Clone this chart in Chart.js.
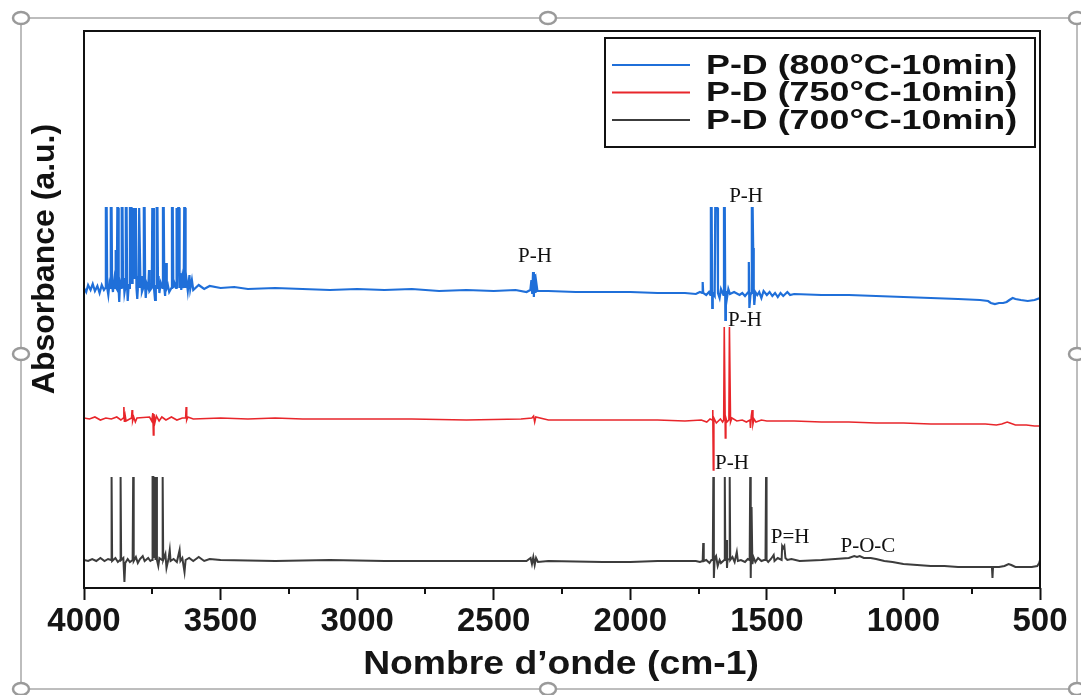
<!DOCTYPE html>
<html><head><meta charset="utf-8">
<script src="https://cdn.jsdelivr.net/npm/chart.js@4/dist/chart.umd.min.js"></script>
<style>html,body{margin:0;padding:0;background:#fff;}canvas{display:block}</style>
</head><body>
<canvas id="c" width="1081" height="695"></canvas>
<script>
// ---- data (wavenumber cm-1, absorbance a.u.) ----
const seriesLabels = ['P-D (800°C-10min)', 'P-D (750°C-10min)', 'P-D (700°C-10min)'];
const seriesColors = ['#1f6fd9', '#e8262b', '#3c3c3c'];
const xTickValues = [4000, 3500, 3000, 2500, 2000, 1500, 1000, 500];
const minorTickValues = [3750, 3250, 2750, 2250, 1750, 1250, 750];
const xTitle = 'Nombre d’onde (cm-1)';
const yTitle = 'Absorbance (a.u.)';

const blue800 = [
[4000,3.00],[3992,2.96],[3985,3.03],[3976,2.98],[3968,3.04],[3960,2.97],[3951,3.02],[3943,2.95],[3935,3.03],[3927,2.98],
[3922,3.00],[3920,3.80],[3917,3.80],[3915,3.00],[3911,2.93],[3907,3.04],
[3904,3.00],[3902,3.80],[3899,3.80],[3897,3.02],[3894,2.96],[3889,3.08],
[3886,3.00],[3884,3.38],[3882,3.00],
[3880,2.99],[3878,3.80],[3875,3.80],[3873,2.97],[3871,2.86],[3868,3.05],
[3864,3.00],[3862,3.80],[3859,3.80],[3857,3.01],[3855,3.10],[3852,2.95],
[3849,3.00],[3847,3.80],[3844,3.80],[3842,3.00],[3840,2.87],[3836,3.04],
[3834,3.00],[3832,3.80],[3829,3.80],
[3826,3.80],[3824,3.05],[3822,3.80],[3820,3.30],[3818,3.80],[3816,3.10],[3814,3.80],[3812,3.58],[3810,3.80],[3808,3.00],
[3805,2.89],[3802,3.03],
[3800,3.00],[3798,3.80],[3795,3.80],[3793,3.00],[3791,3.12],[3788,2.96],
[3783,3.00],[3781,3.80],[3778,3.80],[3776,3.00],
[3774,2.90],[3770,3.04],[3765,3.00],[3762,3.18],[3760,2.97],
[3752,3.00],[3750,3.80],[3748,3.40],[3746,3.80],[3744,3.00],
[3740,2.88],[3737,3.03],
[3736,3.00],[3734,3.80],[3731,3.80],[3729,3.00],
[3727,3.12],[3724,2.95],[3719,3.05],
[3713,3.00],[3711,3.80],[3708,3.80],[3706,3.00],
[3703,2.92],[3699,3.25],[3697,3.00],[3693,3.03],[3688,2.96],
[3680,3.00],[3678,3.80],[3675,3.80],[3673,3.00],[3670,3.06],
[3663,3.00],[3661,3.80],[3659,3.00],
[3657,3.00],[3655,3.80],[3652,3.80],[3650,3.00],
[3647,3.15],[3644,2.98],[3640,3.10],
[3635,3.00],[3633,3.80],[3630,3.80],[3628,3.00],
[3625,3.09],[3620,2.97],[3614,3.13],[3611,2.99],[3605,3.08],[3600,2.98],
[3580,3.03],[3560,2.99],[3540,3.02],[3500,3.00],[3450,3.01],[3400,2.99],[3300,3.00],[3200,2.99],[3100,2.98],[3000,2.99],
[2900,2.98],[2800,2.99],[2700,2.97],[2600,2.98],[2500,2.97],[2420,2.98],[2380,2.96],
[2366,2.98],[2362,3.08],[2359,2.94],[2356,3.16],[2353,2.91],[2350,3.14],[2347,2.95],[2344,3.05],[2340,2.97],
[2300,2.97],[2200,2.96],[2100,2.96],[2000,2.96],[1900,2.95],[1800,2.95],[1760,2.94],[1745,2.96],[1737,2.95],[1735,3.06],[1733,2.95],[1722,2.93],[1712,2.96],
[1707,2.93],[1705,3.80],[1702,3.80],[1700,2.80],[1698,2.95],
[1691,2.92],[1689,3.80],[1686,3.80],[1684,3.80],[1681,3.80],[1679,2.95],
[1673,2.90],[1668,2.99],
[1659,2.93],[1657,3.80],[1654,3.80],[1652,2.68],[1650,2.97],[1646,2.90],[1641,2.99],[1635,2.94],[1620,2.96],[1600,2.93],[1590,2.95],[1580,2.92],
[1568,2.96],[1566,3.26],[1564,2.80],[1560,2.93],
[1557,2.95],[1555,3.80],[1552,3.80],[1550,3.40],[1548,2.95],
[1546,2.83],[1542,2.96],[1535,2.93],[1528,2.96],[1520,2.90],[1512,2.97],[1500,2.93],[1490,2.96],[1480,2.92],[1470,2.95],[1460,2.91],[1450,2.95],[1440,2.92],[1425,2.96],[1415,2.93],
[1400,2.94],[1300,2.93],[1200,2.93],[1100,2.92],[1000,2.91],[900,2.90],[800,2.89],[720,2.88],[690,2.87],[680,2.85],[665,2.84],[650,2.85],[635,2.85],[622,2.86],[612,2.88],[600,2.90],[590,2.89],[570,2.88],[545,2.87],[520,2.88],[500,2.90]
];

const red750 = [
[4000,1.70],[3980,1.69],[3960,1.71],[3940,1.68],[3920,1.70],[3900,1.69],[3880,1.71],[3865,1.68],
[3856,1.70],[3854,1.81],[3852,1.66],[3849,1.72],[3846,1.67],
[3826,1.70],[3824,1.78],[3822,1.67],[3818,1.71],[3812,1.66],[3806,1.70],
[3760,1.71],[3752,1.67],[3748,1.75],[3746,1.53],[3744,1.74],[3740,1.66],[3735,1.72],[3725,1.67],[3715,1.71],[3700,1.68],[3680,1.71],[3660,1.68],[3640,1.70],
[3628,1.70],[3626,1.81],[3624,1.68],[3620,1.71],[3600,1.69],
[3500,1.70],[3400,1.69],[3300,1.70],[3200,1.69],[3000,1.69],[2800,1.69],[2600,1.68],[2400,1.69],[2360,1.70],[2354,1.72],[2350,1.66],[2346,1.71],[2300,1.68],
[2100,1.68],[2000,1.68],[1900,1.68],[1800,1.67],[1740,1.68],[1720,1.66],[1708,1.69],
[1700,1.68],[1698,1.78],[1696,1.18],[1694,1.70],[1685,1.65],[1670,1.69],[1662,1.66],
[1658,1.68],[1656,2.61],[1654,2.61],[1652,1.50],[1650,1.70],[1646,1.66],
[1639,1.68],[1637,2.61],[1635,2.61],[1633,1.66],[1628,1.70],[1610,1.67],[1590,1.68],[1575,1.66],
[1562,1.68],[1560,1.60],[1557,1.72],[1554,1.78],[1551,1.64],[1547,1.69],[1540,1.66],[1520,1.68],[1500,1.67],
[1400,1.67],[1300,1.66],[1200,1.66],[1100,1.65],[1000,1.65],[900,1.64],[800,1.64],[700,1.64],[660,1.63],[640,1.64],[620,1.66],[610,1.65],[590,1.63],[550,1.63],[520,1.62],[500,1.62]
];

const black700 = [
[4000,0.28],[3985,0.27],[3970,0.29],[3955,0.27],[3940,0.30],[3925,0.27],[3912,0.29],
[3901,0.28],[3899,1.11],[3897,0.27],[3885,0.30],[3876,0.26],
[3868,0.28],[3866,1.11],[3864,0.28],[3856,0.30],[3852,0.06],[3849,0.25],[3840,0.29],[3832,0.26],
[3822,0.28],[3820,1.11],[3818,0.27],[3810,0.31],[3803,0.25],[3795,0.29],[3785,0.32],[3778,0.27],[3765,0.30],[3757,0.27],
[3751,0.28],[3749,1.11],[3746,1.11],[3744,0.30],[3741,1.11],[3738,0.28],[3735,1.11],[3733,0.28],
[3728,0.22],[3724,0.30],
[3714,0.28],[3712,1.11],[3710,0.28],
[3702,0.34],[3698,0.20],[3690,0.30],[3686,0.38],[3683,0.27],[3672,0.29],[3660,0.26],[3650,0.38],[3647,0.27],[3640,0.30],[3632,0.16],[3628,0.28],[3615,0.30],[3600,0.27],[3580,0.31],[3560,0.27],[3540,0.29],
[3500,0.28],[3300,0.27],[3100,0.28],[2900,0.27],[2700,0.27],[2500,0.27],[2380,0.27],[2365,0.30],[2360,0.24],[2355,0.31],[2350,0.23],[2345,0.30],[2338,0.26],[2300,0.27],
[2100,0.26],[2000,0.26],[1900,0.27],[1800,0.27],[1760,0.27],[1745,0.26],
[1735,0.27],[1733,0.45],[1731,0.27],[1722,0.28],[1710,0.25],[1703,0.28],
[1698,0.28],[1696,1.11],[1694,0.10],[1691,0.30],[1686,0.32],[1680,0.22],[1673,0.28],[1668,0.25],
[1656,0.28],[1654,1.11],[1652,0.28],[1648,0.48],[1646,0.20],[1644,0.28],
[1638,0.29],[1636,1.11],[1634,0.28],[1626,0.31],[1618,0.26],[1610,0.36],[1606,0.27],[1595,0.28],[1580,0.26],[1570,0.29],
[1563,0.28],[1561,1.11],[1559,0.10],[1556,0.81],[1553,0.24],[1549,0.31],[1542,0.26],[1532,0.30],[1520,0.27],[1510,0.28],
[1505,0.28],[1503,1.11],[1501,0.28],[1495,0.26],[1485,0.29],[1475,0.33],[1472,0.27],[1460,0.30],[1446,0.28],[1444,0.42],[1440,0.40],[1436,0.42],[1432,0.30],[1425,0.28],[1410,0.29],[1380,0.27],
[1300,0.28],[1250,0.29],[1200,0.30],[1180,0.32],[1170,0.31],[1160,0.32],[1145,0.30],[1120,0.30],[1100,0.29],[1070,0.27],[1040,0.26],[1000,0.24],[950,0.23],[900,0.22],[850,0.22],[800,0.21],[750,0.21],[700,0.21],
[676,0.21],[674,0.10],[672,0.21],[650,0.21],[630,0.22],[615,0.24],[605,0.23],[590,0.21],[560,0.21],[530,0.21],[510,0.22],[503,0.25],[500,0.28]
];

// peak annotations
const peakText = ['P-H', 'P-H', 'P-H', 'P-H', 'P=H', 'P-O-C'];
const peakWave = [2349, 1576, 1580, 1628, 1415, 1130];
const peakAbs  = [3.32, 3.92, 2.68, 1.25, 0.51, 0.42];

const toPts = arr => arr.map(p => ({x: p[0], y: p[1]}));

// draw text stretched horizontally
function wideText(c, text, x, y, sx) {
  c.save(); c.translate(x, y); c.scale(sx, 1); c.fillText(text, 0, 0); c.restore();
}

const decor = {
  id: 'decor',
  beforeDraw(chart) {
    const c = chart.ctx;
    c.save();
    c.fillStyle = '#fff'; c.fillRect(0, 0, chart.width, chart.height);
    c.strokeStyle = '#a8a8a8'; c.lineWidth = 1.5;
    c.strokeRect(21, 18, 1056, 671);
    c.restore();
  },
  afterDraw(chart) {
    const c = chart.ctx, a = chart.chartArea, xs = chart.scales.x, ys = chart.scales.y;
    c.save();
    // plot frame
    c.strokeStyle = '#111'; c.lineWidth = 2;
    c.strokeRect(a.left, a.top, a.right - a.left, a.bottom - a.top);
    // minor ticks
    c.beginPath();
    minorTickValues.forEach(v => { const px = Math.round(xs.getPixelForValue(v)); c.moveTo(px, a.bottom); c.lineTo(px, a.bottom + 6); });
    c.stroke();
    // peak labels
    c.fillStyle = '#111'; c.font = '21px "Liberation Serif"'; c.textAlign = 'center'; c.textBaseline = 'middle';
    peakText.forEach((t, i) => c.fillText(t, xs.getPixelForValue(peakWave[i]), ys.getPixelForValue(peakAbs[i])));
    // y title
    c.save();
    c.translate(a.left - 39, a.top + 228); c.rotate(-Math.PI / 2);
    c.font = 'bold 32px "Liberation Sans"'; c.fillStyle = '#111'; c.textAlign = 'center'; c.textBaseline = 'middle';
    c.fillText(yTitle, 0, 0);
    c.restore();
    // x title
    c.font = 'bold 33px "Liberation Sans"'; c.fillStyle = '#151515'; c.textAlign = 'center'; c.textBaseline = 'middle';
    wideText(c, xTitle, (a.left + a.right) / 2 - 1, a.bottom + 77, 1.13);
    // legend
    const lx = a.right - 435, ly = a.top + 7, lw = 430, lh = 109;
    c.fillStyle = '#fff'; c.fillRect(lx, ly, lw, lh);
    c.strokeStyle = '#111'; c.lineWidth = 2; c.strokeRect(lx, ly, lw, lh);
    c.font = 'bold 28px "Liberation Sans"'; c.textAlign = 'left'; c.textBaseline = 'middle';
    chart.data.datasets.forEach((ds, i) => {
      const yy = ly + 27 + i * 27.5;
      c.strokeStyle = ds.borderColor; c.lineWidth = 2;
      c.beginPath(); c.moveTo(lx + 7, yy); c.lineTo(lx + 85, yy); c.stroke();
      c.fillStyle = '#111';
      wideText(c, ds.label, lx + 101, yy + 1, 1.28);
    });
    // selection handles
    const hs = [[21,18],[548,18],[1077,18],[21,354],[1077,354],[21,689],[548,689],[1077,689]];
    hs.forEach(([x, y]) => {
      c.beginPath(); c.ellipse(x, y, 8, 6, 0, 0, 2 * Math.PI);
      c.fillStyle = '#fff'; c.fill(); c.lineWidth = 2.5; c.strokeStyle = '#9a9a9a'; c.stroke();
    });
    c.restore();
  }
};

new Chart(document.getElementById('c'), {
  type: 'line',
  data: {
    datasets: [
      {label: seriesLabels[0], data: toPts(blue800), borderColor: seriesColors[0], borderWidth: 2.2, pointRadius: 0, tension: 0},
      {label: seriesLabels[1], data: toPts(red750), borderColor: seriesColors[1], borderWidth: 1.6, pointRadius: 0, tension: 0},
      {label: seriesLabels[2], data: toPts(black700), borderColor: seriesColors[2], borderWidth: 2, pointRadius: 0, tension: 0}
    ]
  },
  options: {
    responsive: false, animation: false,
    layout: {padding: {left: 24, right: 41, top: 31, bottom: 8}},
    plugins: {legend: {display: false}, tooltip: {enabled: false}},
    scales: {
      x: {
        type: 'linear', reverse: true, min: 500, max: 4000,
        afterBuildTicks: s => { s.ticks = xTickValues.map(v => ({value: v})); },
        afterFit: s => { s.height = 99; s.paddingLeft = 0; s.paddingRight = 0; },
        ticks: {color: '#151515', padding: 2, maxRotation: 0, autoSkip: false,
                callback: v => String(v),
                font: {family: '"Liberation Sans"', weight: 'bold', size: 33}},
        grid: {display: true, drawOnChartArea: false, drawTicks: true, tickLength: 12, tickWidth: 2, tickColor: '#111'},
        border: {display: false},
        title: {display: false}
      },
      y: {
        type: 'linear', min: 0, max: 5.57,
        afterFit: s => { s.width = 60; s.paddingTop = 0; s.paddingBottom = 0; },
        ticks: {display: false}, grid: {display: false}, border: {display: false}
      }
    }
  },
  plugins: [decor]
});
</script>
</body></html>
